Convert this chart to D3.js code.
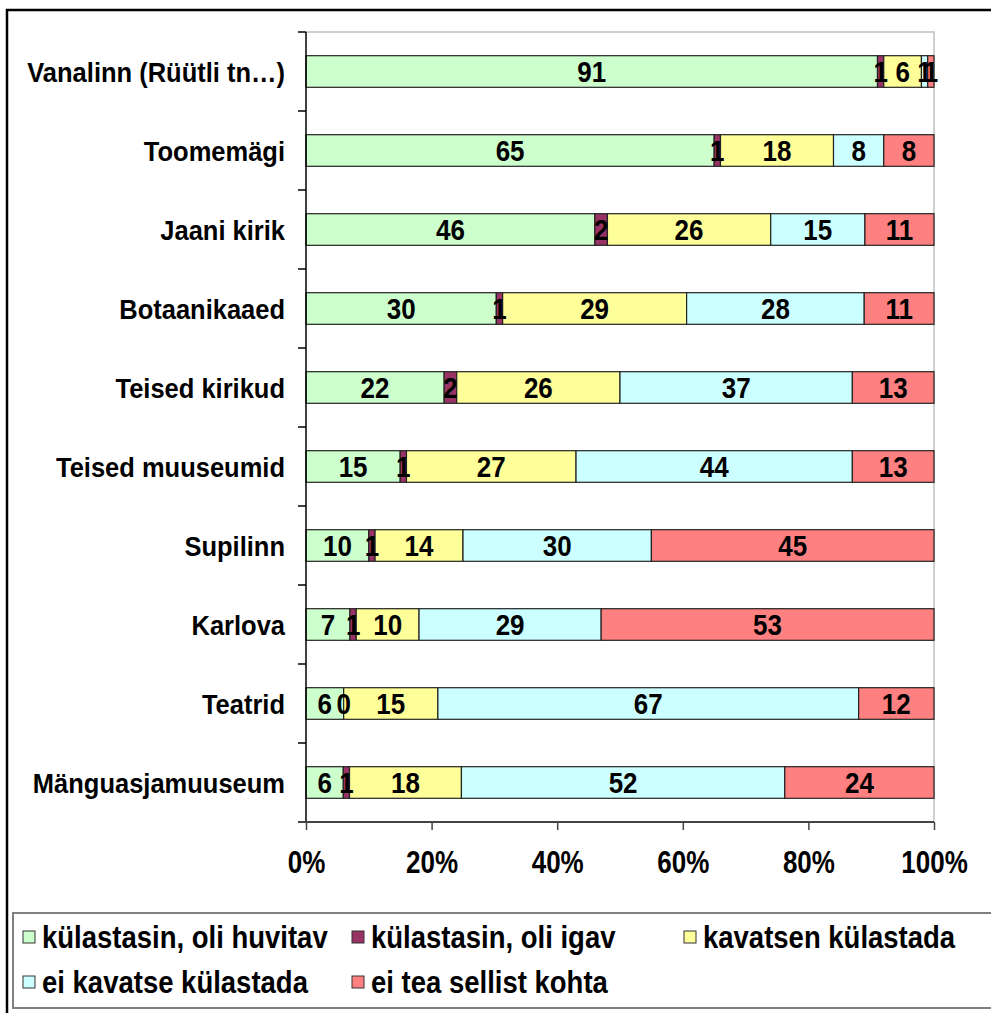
<!DOCTYPE html>
<html>
<head>
<meta charset="utf-8">
<script src="https://cdn.jsdelivr.net/npm/d3@7"></script>
<style>
  body { margin: 0; background: #fff; }
  text { font-family: "Liberation Sans", Arial, sans-serif; font-weight: bold; fill: #000; }
</style>
</head>
<body>
<svg id="chart" width="991" height="1013"></svg>
<script>
// categories top to bottom
var places = ["Vanalinn (Rüütli tn…)", "Toomemägi", "Jaani kirik", "Botaanikaaed", "Teised kirikud",
    "Teised muuseumid", "Supilinn", "Karlova", "Teatrid", "Mänguasjamuuseum"]

var seriesNames = ["külastasin, oli huvitav", "külastasin, oli igav", "kavatsen külastada",
    "ei kavatse külastada", "ei tea sellist kohta"]
var seriesColors = ["#CCFFCC", "#993366", "#FFFF99", "#CCFFFF", "#FF8080"]

// values per series, same order as places
var visitedGood = [91, 65, 46, 30, 22, 15, 10, 7, 6, 6]
var visitedBoring = [1, 1, 2, 1, 2, 1, 1, 1, 0, 1]
var planVisit = [6, 18, 26, 29, 26, 27, 14, 10, 15, 18]
var noPlan = [1, 8, 15, 28, 37, 44, 30, 29, 67, 52]
var unknown = [1, 8, 11, 11, 13, 13, 45, 53, 12, 24]

var tickValues = [0, 0.2, 0.4, 0.6, 0.8, 1]

var allSeries = [visitedGood, visitedBoring, planVisit, noPlan, unknown]
var rows = places.map(function (p, i) {
    var r = { place: p }
    seriesNames.forEach(function (s, k) { r[s] = allSeries[k][i] })
    return r
})

var svg = d3.select("#chart")

// outer frame
svg.append("rect")
    .attr("x", 7).attr("y", 10)
    .attr("width", 1000).attr("height", 1020)
    .attr("fill", "none").attr("stroke", "#000").attr("stroke-width", 2.5)

var plot = { left: 306, right: 934, top: 32, bottom: 822 }

var xScale = d3.scaleLinear().domain([0, 1]).range([plot.left, plot.right])
var yScale = d3.scaleBand().domain(places).range([plot.top, plot.bottom]).padding(0)
var barH = yScale.bandwidth() * 0.4

var stacked = d3.stack().keys(seriesNames).offset(d3.stackOffsetExpand)(rows)

// text in the original is a bit taller than plain Arial
function place(x, y, sy) {
    return "translate(" + x + "," + y + ") scale(1," + sy + ")"
}

// plot area border (grey, top and right)
svg.append("path")
    .attr("d", "M" + plot.left + "," + plot.top + "H" + plot.right + "V" + plot.bottom)
    .attr("fill", "none").attr("stroke", "#c0c0c0").attr("stroke-width", 1.5)

var groups = svg.selectAll(".series")
    .data(stacked)
    .enter().append("g")
    .attr("class", "series")
    .attr("fill", function (d, i) { return seriesColors[i] })

groups.selectAll("rect")
    .data(function (d) { return d })
    .enter().append("rect")
    .attr("x", function (d) { return xScale(d[0]) })
    .attr("width", function (d) { return xScale(d[1]) - xScale(d[0]) })
    .attr("y", function (d) { return yScale(d.data.place) + (yScale.bandwidth() - barH) / 2 })
    .attr("height", barH)
    .attr("stroke", "#222")
    .attr("stroke-width", 1.2)

// data labels
stacked.forEach(function (layer, k) {
    svg.append("g").selectAll("text")
        .data(layer)
        .enter().append("text")
        .attr("transform", function (d) {
            return place((xScale(d[0]) + xScale(d[1])) / 2, yScale(d.data.place) + yScale.bandwidth() / 2, 1.15)
        })
        .attr("dy", "0.36em")
        .attr("text-anchor", "middle")
        .style("font-size", "26px")
        .text(function (d) { return d.data[layer.key] })
})

// y axis
var yAxis = svg.append("g")
yAxis.append("line")
    .attr("x1", plot.left).attr("x2", plot.left).attr("y1", plot.top).attr("y2", plot.bottom)
    .attr("stroke", "#000").attr("stroke-width", 1.5)
yAxis.selectAll(".tk")
    .data(d3.range(places.length + 1))
    .enter().append("line")
    .attr("x1", plot.left - 8).attr("x2", plot.left)
    .attr("y1", function (i) { return plot.top + i * yScale.step() })
    .attr("y2", function (i) { return plot.top + i * yScale.step() })
    .attr("stroke", "#000").attr("stroke-width", 1.5)
yAxis.selectAll("text")
    .data(places)
    .enter().append("text")
    .attr("transform", function (d) { return place(285, yScale(d) + yScale.bandwidth() / 2, 1.12) })
    .attr("dy", "0.36em")
    .attr("text-anchor", "end")
    .style("font-size", "25.5px")
    .text(function (d) { return d })

// x axis
var xAxis = svg.append("g")
    .attr("transform", "translate(0," + plot.bottom + ")")
    .call(d3.axisBottom(xScale).tickValues(tickValues).tickFormat(d3.format(".0%"))
        .tickSize(8).tickSizeOuter(0))
xAxis.select(".domain").attr("stroke", "#444").attr("stroke-width", 2)
    .attr("d", "M" + (plot.left - 8) + ",0H" + plot.right)
xAxis.selectAll(".tick line").attr("stroke", "#444").attr("stroke-width", 1.5)
xAxis.selectAll(".tick text")
    .attr("y", null)
    .attr("dy", "0.36em")
    .attr("transform", place(0, 40, 1.2))
    .attr("fill", "#000")
    .style("font-family", "'Liberation Sans', Arial, sans-serif")
    .style("font-weight", "bold")
    .style("font-size", "26px")

// legend
svg.append("rect")
    .attr("x", 13).attr("y", 913)
    .attr("width", 1000).attr("height", 95)
    .attr("fill", "#fff").attr("stroke", "#808080").attr("stroke-width", 2)

var legendPos = [[23, 937], [352, 937], [684, 937], [23, 982], [352, 982]]
var legend = svg.selectAll(".legend")
    .data(seriesNames)
    .enter().append("g")
    .attr("class", "legend")
    .attr("transform", function (d, i) { return "translate(" + legendPos[i][0] + "," + legendPos[i][1] + ")" })
legend.append("rect")
    .attr("x", 0).attr("y", -6)
    .attr("width", 12).attr("height", 12)
    .attr("fill", function (d, i) { return seriesColors[i] })
    .attr("stroke", "#333").attr("stroke-width", 1)
legend.append("text")
    .attr("transform", place(19, 0, 1.12))
    .attr("dy", "0.36em")
    .style("font-size", "27.5px")
    .text(function (d) { return d })
</script>
</body>
</html>
